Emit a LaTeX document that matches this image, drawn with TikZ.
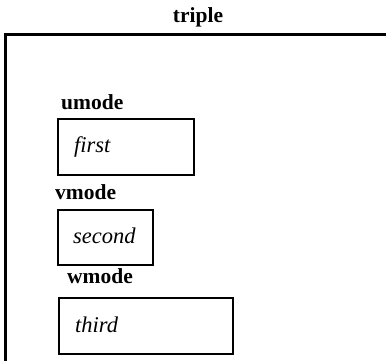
\documentclass[tikz,border=0pt]{standalone}
\usepackage{fontspec}
\setmainfont{Liberation Serif}
\begin{document}
\begin{tikzpicture}[x=1pt,y=1pt,
  lbl/.style={font=\fontsize{21.5}{24}\selectfont\bfseries, inner sep=0pt, anchor=base west},
  itxt/.style={font=\fontsize{22.5}{25}\selectfont\itshape, inner sep=0pt, anchor=base west},
  field/.style={draw, line width=1.6pt, inner sep=0pt, anchor=north west},
  outer/.style={line width=2.6pt}]
\useasboundingbox (0,0) rectangle (386,-361);
% outer box (cut off at right and bottom)
\draw[outer] (386,-34.5) -- (5.5,-34.5) -- (5.5,-361);
\node[lbl, anchor=base] (title) at (198,-23) {triple};
% umode
\node[lbl] (ulab) at (61,-110) {umode};
\node[field, minimum width=136pt, minimum height=56pt] (ubox) at (57,-118) {};
\node[itxt] (utxt) at (74,-153) {first};
% vmode
\node[lbl] (vlab) at (55,-199) {vmode};
\node[field, minimum width=95pt, minimum height=55pt] (vbox) at (57,-209) {};
\node[itxt] (vtxt) at (73,-243) {second};
% wmode
\node[lbl] (wlab) at (67,-283) {wmode};
\node[field, minimum width=174pt, minimum height=56pt] (wbox) at (58,-297) {};
\node[itxt] (wtxt) at (75,-332) {third};
\end{tikzpicture}
\end{document}
